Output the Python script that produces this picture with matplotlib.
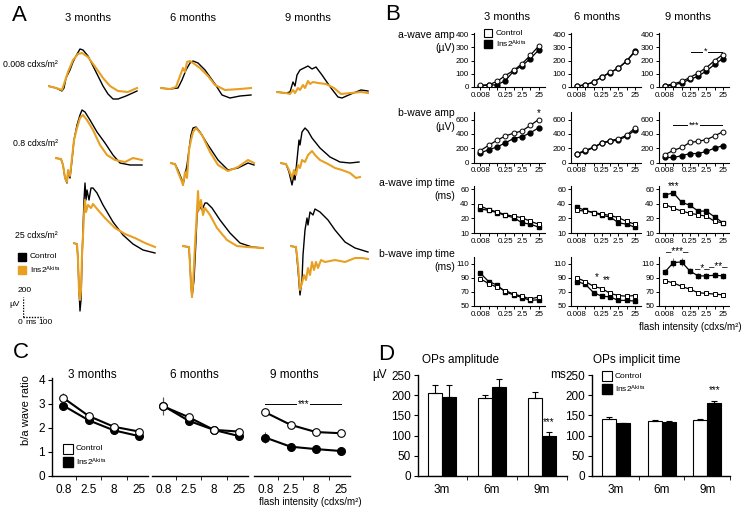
import numpy as np
import matplotlib
matplotlib.use('Agg')
import matplotlib.pyplot as plt
from matplotlib.ticker import FixedLocator, NullLocator, FixedFormatter

plt.rcParams['font.family'] = ['Liberation Sans', 'DejaVu Sans']
plt.rcParams['mathtext.fontset'] = 'custom'
plt.rcParams['mathtext.rm'] = 'Liberation Sans'
plt.rcParams['mathtext.it'] = 'Liberation Sans:italic'

W, H = 741, 509
ORANGE = '#E8A022'

# ---------------- Panel A data: ERG traces (time ms, amplitude µV) ----------------
ages = ['3 months', '6 months', '9 months']
flash_A = ['0.008 cdxs/m²', '0.8 cdxs/m²', '25 cdxs/m²']

ctrl_008_3m = ([0, 40, 70, 80, 90, 100, 110, 125, 140, 160, 175, 200, 240, 275, 300, 325, 350, 390, 445],
               [0, -20, -50, -20, 80, 120, 160, 240, 300, 370, 360, 300, 140, 0, -80, -130, -130, -100, -50])
akita_008_3m = ([0, 40, 70, 80, 100, 125, 150, 170, 200, 240, 275, 310, 350, 400, 445],
                [0, -20, -40, 20, 140, 260, 320, 330, 290, 180, 80, 0, -50, -60, -20])
ctrl_008_6m = ([0, 50, 90, 110, 130, 150, 165, 190, 225, 275, 310, 350, 400, 455],
               [0, -10, 0, 80, 180, 250, 270, 250, 180, 40, -70, -100, -80, -70])
akita_008_6m = ([0, 50, 80, 100, 115, 125, 135, 150, 165, 200, 240, 275, 325, 400, 455],
                [0, -10, 10, 120, 200, 160, 260, 270, 250, 200, 120, 30, -20, -10, 0])
ctrl_008_9m = ([0, 50, 70, 85, 95, 105, 120, 140, 160, 180, 200, 230, 275, 310, 330, 375, 425, 460],
               [0, -10, 0, 100, 60, 170, 220, 240, 260, 230, 250, 170, 40, -50, -60, -20, 20, 10])
akita_008_9m = ([0, 50, 70, 85, 95, 110, 120, 135, 145, 160, 170, 185, 210, 250, 290, 325, 375, 425, 460],
                [0, -10, -20, 20, -10, 40, 20, 70, 40, 110, 80, 100, 90, 80, 40, -20, -10, 0, -10])

ctrl_08_3m = ([0, 30, 40, 50, 60, 65, 75, 85, 95, 110, 125, 135, 150, 175, 210, 250, 290, 325, 375, 435],
              [0, -10, -70, -200, -250, -140, -200, -20, 180, 330, 430, 480, 460, 380, 260, 150, 30, -50, -70, -70])
akita_08_3m = ([0, 30, 40, 50, 60, 65, 75, 85, 95, 110, 125, 140, 160, 190, 225, 260, 300, 350, 390, 435],
               [0, -10, -70, -200, -240, -120, -180, 0, 180, 300, 400, 430, 380, 280, 130, 30, -20, -40, 0, -20])
ctrl_08_6m = ([0, 25, 40, 60, 65, 75, 85, 95, 105, 115, 130, 150, 190, 240, 290, 340, 390, 420],
              [0, -10, -70, -170, -220, -120, -20, 130, 280, 350, 360, 310, 180, 30, -70, -50, 0, -20])
akita_08_6m = ([0, 25, 40, 60, 65, 75, 85, 95, 105, 115, 130, 160, 200, 240, 290, 340, 390, 420],
               [0, -10, -90, -190, -220, -90, -150, 130, 230, 310, 350, 280, 110, -20, -80, -40, 30, 0])
ctrl_08_9m = ([0, 30, 45, 60, 70, 75, 85, 95, 100, 110, 125, 140, 160, 200, 250, 300, 350, 395],
              [0, -10, -90, -220, -120, -170, 30, 230, 180, 310, 350, 320, 250, 150, 60, 10, 0, 10])
akita_08_9m = ([0, 30, 45, 60, 70, 80, 90, 100, 110, 125, 140, 160, 175, 200, 240, 275, 310, 350, 380, 400],
               [0, -10, -70, -150, -70, -120, -20, -50, 30, 10, 80, 120, 80, 30, -10, -50, -70, -100, -150, -140])

ctrl_25_3m = ([0, 20, 25, 30, 35, 40, 45, 55, 60, 65, 70, 80, 90, 100, 120, 150, 200, 250, 300, 350, 410],
              [0, -10, -170, -470, -680, -570, -170, 430, 600, 430, 530, 430, 550, 550, 500, 380, 210, 80, -10, -70, -100])
akita_25_3m = ([0, 20, 25, 30, 35, 40, 45, 55, 60, 65, 75, 90, 100, 125, 160, 210, 260, 310, 360, 410],
               [0, -10, -170, -470, -570, -470, -120, 280, 430, 310, 380, 350, 390, 330, 250, 150, 90, 50, 0, -40])
ctrl_25_6m = ([0, 35, 40, 45, 50, 60, 70, 75, 85, 100, 115, 125, 150, 190, 240, 290, 350, 405],
              [0, -10, -190, -390, -510, -340, 60, 310, 410, 360, 430, 430, 380, 260, 130, 30, -10, -20])
akita_25_6m = ([0, 35, 40, 45, 50, 55, 65, 75, 80, 85, 95, 105, 115, 140, 175, 225, 275, 325, 405],
               [0, -10, -190, -390, -510, -390, 10, 360, 550, 360, 460, 310, 380, 310, 180, 60, 0, -10, -20])
ctrl_25_9m = ([0, 30, 40, 50, 60, 65, 75, 85, 90, 100, 115, 125, 150, 190, 225, 275, 325, 390],
              [0, -10, -240, -490, -340, -90, 160, 280, 210, 340, 310, 370, 340, 260, 160, 40, -20, -60])
akita_25_9m = ([0, 30, 40, 50, 60, 70, 80, 90, 100, 110, 120, 130, 140, 155, 175, 225, 275, 325, 360, 390],
               [0, -10, -190, -440, -370, -290, -340, -220, -290, -160, -240, -160, -220, -140, -160, -140, -160, -120, -120, -130])

# ---------------- Panel B data ----------------
intensities = ['0.008', '0.025', '0.08', '0.25', '0.8', '2.5', '8', '25']
shown_int = ['0.008', '0.25', '2.5', '25']

aamp_ctrl = [[10, 15, 40, 85, 125, 175, 240, 310],
             [5, 15, 37, 75, 110, 142, 197, 265],
             [8, 22, 40, 70, 105, 145, 200, 245]]
aamp_akita = [[8, 12, 15, 45, 120, 160, 215, 280],
              [5, 14, 35, 73, 108, 140, 195, 272],
              [5, 12, 30, 55, 80, 120, 170, 215]]
bamp_ctrl = [[165, 240, 310, 370, 410, 440, 520, 600],
             [125, 170, 215, 275, 305, 330, 380, 480],
             [110, 170, 210, 280, 295, 320, 370, 430]]
bamp_akita = [[130, 180, 215, 275, 335, 360, 415, 485],
              [120, 155, 210, 270, 295, 315, 365, 450],
              [70, 70, 95, 125, 125, 155, 200, 235]]
aimp_ctrl = [[37, 32, 29, 25, 23, 21, 18, 16],
             [31, 30, 28, 26, 24, 21, 18, 16],
             [39, 34, 30, 27, 25, 23, 18, 17]]
aimp_akita = [[33, 31, 28, 24, 21, 17, 16, 14],
              [35, 31, 28, 24, 22, 17, 16, 14],
              [52, 55, 42, 38, 30, 30, 22, 17]]
bimp_ctrl = [[89, 82, 77, 72, 67, 64, 60, 63],
             [90, 85, 78, 75, 68, 65, 64, 65],
             [86, 83, 78, 74, 69, 68, 67, 66]]
bimp_akita = [[97, 85, 80, 70, 66, 62, 58, 59],
              [85, 81, 69, 64, 63, 58, 58, 57],
              [99, 112, 113, 100, 93, 93, 94, 93]]
bimp_akita_err = [[2, 2, 3, 2, 2, 2, 2, 2],
                  [2, 2, 2, 2, 2, 2, 2, 2],
                  [4, 6, 6, 4, 4, 4, 4, 4]]

# ---------------- Panel C data ----------------
flash_C = ['0.8', '2.5', '8', '25']
ratio_ctrl = [[3.25, 2.5, 2.05, 1.85], [2.9, 2.45, 1.92, 1.85], [2.65, 2.13, 1.83, 1.78]]
ratio_akita = [[2.93, 2.32, 1.9, 1.66], [2.92, 2.3, 1.92, 1.66], [1.6, 1.22, 1.12, 1.04]]
ratio_ctrl_err = [[0.22, 0.06, 0.05, 0.05], [0.35, 0.06, 0.05, 0.05], [0.05, 0.05, 0.05, 0.05]]
ratio_akita_err = [[0.2, 0.07, 0.06, 0.05], [0.35, 0.15, 0.06, 0.05], [0.22, 0.08, 0.06, 0.05]]

# ---------------- Panel D data ----------------
age_D = ['3m', '6m', '9m']
ops_amp_ctrl = [205, 192, 192]
ops_amp_akita = [195, 220, 100]
ops_amp_ctrl_err = [20, 8, 15]
ops_amp_akita_err = [30, 20, 8]
ops_time_ctrl = [140, 136, 139]
ops_time_akita = [130, 133, 180]
ops_time_ctrl_err = [6, 2, 3]
ops_time_akita_err = [2, 2, 6]


def rect(x0, y0, x1, y1):
    return [x0 / W, 1 - y1 / H, (x1 - x0) / W, (y1 - y0) / H]


fig = plt.figure(figsize=(W / 100, H / 100), dpi=100)
ov = fig.add_axes([0, 0, 1, 1])
ov.set_xlim(0, W)
ov.set_ylim(H, 0)
ov.axis('off')


def txt(x, y, s, size=8, ha='center', va='center', **kw):
    ov.text(x, y, s, fontsize=size, ha=ha, va=va, **kw)


AK = 'Ins2$^{\\mathrm{Akita}}$'

# ---------------- Panel A ----------------
txt(19, 15, 'A', size=16)
for x, s in zip([88, 193, 308], ages):
    txt(x, 18, s, size=8)
for y, s in zip([64, 144, 235], flash_A):
    txt(58, y, s, size=6.3, ha='right')

trace_pairs = {
    (0, 0): (ctrl_008_3m, akita_008_3m), (0, 1): (ctrl_008_6m, akita_008_6m), (0, 2): (ctrl_008_9m, akita_008_9m),
    (1, 0): (ctrl_08_3m, akita_08_3m), (1, 1): (ctrl_08_6m, akita_08_6m), (1, 2): (ctrl_08_9m, akita_08_9m),
    (2, 0): (ctrl_25_3m, akita_25_3m), (2, 1): (ctrl_25_6m, akita_25_6m), (2, 2): (ctrl_25_9m, akita_25_9m),
}
origins = {(0, 0): (48, 86), (0, 1): (160, 88), (0, 2): (276, 92),
           (1, 0): (55, 158), (1, 1): (170, 163), (1, 2): (280, 163),
           (2, 0): (73, 243), (2, 1): (182, 246), (2, 2): (290, 246)}
for key, (sx, by) in origins.items():
    ax = fig.add_axes(rect(sx, by - 75, sx + 95, by + 75))
    ax.set_xlim(0, 475)
    ax.set_ylim(-750, 750)
    ax.axis('off')
    c, a = trace_pairs[key]
    ax.plot(c[0], c[1], color='black', lw=1.0, zorder=2)
    ax.plot(a[0], a[1], color=ORANGE, lw=1.5, zorder=3)

# legend A
ov.plot([22], [257], marker='s', ms=6, color='black', ls='none')
ov.plot([22], [270], marker='s', ms=6, color=ORANGE, ls='none')
txt(30, 257, 'Control', size=6, ha='left')
txt(30, 270, AK, size=6, ha='left')
# scale bar
sb = fig.add_axes(rect(23, 317 - 75, 23 + 95, 317 + 75))
sb.set_xlim(0, 475)
sb.set_ylim(-750, 750)
sb.axis('off')
sb.plot([0, 0], [0, 200], color='black', lw=1, ls=(0, (1, 1)))
sb.plot([0, 100], [0, 0], color='black', lw=1, ls=(0, (1, 1)))
txt(25, 290, '200', size=6)
txt(15, 304, 'µV', size=6)
txt(20, 323, '0', size=6)
txt(31, 323, 'ms', size=6)
txt(45, 323, '100', size=6)

# ---------------- Panel B ----------------
txt(393, 14, 'B', size=16)
for x, s in zip([507, 597, 688], ages):
    txt(x, 17, s, size=8)
row_labels = [('a-wave amp', '(µV)', 35, 48), ('b-wave amp', '(µV)', 113, 127),
              ('a-wave imp time', '(ms)', 183, 196), ('b-wave imp time', '(ms)', 254, 267)]
for l1, l2, y1, y2 in row_labels:
    txt(455, y1, l1, size=7.5, ha='right')
    txt(455, y2, l2, size=7.5, ha='right')
txt(690, 327, 'flash intensity (cdxs/m²)', size=7)

colsB = [(474, 545), (571, 641), (659, 729)]
rowsB = [(33, 86.7), (112, 162.5), (185.5, 233), (257, 306)]
ylimsB = [(0, 410), (0, 705), (10, 65), (50, 120)]
yticksB = [[0, 100, 200, 300, 400], [0, 200, 400, 600], [10, 20, 40, 60], [50, 70, 90, 110]]
ctrl_rows = [aamp_ctrl, bamp_ctrl, aimp_ctrl, bimp_ctrl]
akita_rows = [aamp_akita, bamp_akita, aimp_akita, bimp_akita]
markersB = ['o', 'o', 's', 's']

bp_in = [0, 10, 20, 40, 60, 100]
bp_out = [-1, 0, 1, 2, 3, 5]


def fwd(v):
    return np.interp(v, bp_in, bp_out)


def inv(v):
    return np.interp(v, bp_out, bp_in)


xpos = np.arange(len(intensities))
shown_idx = [intensities.index(s) for s in shown_int]
axB = {}
for r in range(4):
    for c in range(3):
        x0, x1 = colsB[c]
        y0, y1 = rowsB[r]
        ax = fig.add_axes(rect(x0, y0, x1, y1))
        ax.set_facecolor('none')
        if r == 2:
            ax.set_yscale('function', functions=(fwd, inv))
        ax.set_ylim(*ylimsB[r])
        ax.set_xlim(-0.75, 7.75)
        for sp in ['top', 'right']:
            ax.spines[sp].set_visible(False)
        for sp in ['left', 'bottom']:
            ax.spines[sp].set_linewidth(0.8)
        ax.yaxis.set_major_locator(FixedLocator(yticksB[r]))
        ax.yaxis.set_major_formatter(FixedFormatter([str(v) for v in yticksB[r]]))
        ax.yaxis.set_minor_locator(NullLocator())
        ax.xaxis.set_major_locator(FixedLocator(shown_idx))
        ax.xaxis.set_major_formatter(FixedFormatter(shown_int))
        ax.xaxis.set_minor_locator(FixedLocator(xpos))
        ax.tick_params(axis='both', labelsize=5.8, length=2, width=0.7, pad=1.5)
        ax.tick_params(axis='x', which='minor', length=2, width=0.7)
        m = markersB[r]
        if r == 3:
            ax.errorbar(xpos, akita_rows[r][c], yerr=bimp_akita_err[c], fmt='none',
                        ecolor='#777777', elinewidth=0.7, capsize=0)
        ax.plot(xpos, akita_rows[r][c], marker=m, ms=3.5, color='black', lw=0.9,
                mfc='black', mec='black')
        ax.plot(xpos, ctrl_rows[r][c], marker=m, ms=3.5, color='black', lw=0.9,
                mfc='white', mec='black', mew=0.7)
        axB[(r, c)] = ax


def sigline(ax, x0, x1, y, s, xs, size=6.5):
    ax.plot([x0, x1], [y, y], color='black', lw=0.7, zorder=1)
    ax.text(xs, y, s, fontsize=size, ha='center', va='center',
            bbox=dict(facecolor='white', edgecolor='none', pad=0.5), zorder=2)


sigline(axB[(0, 2)], 3.1, 6.9, 267, '*', 4.9)
sigline(axB[(1, 2)], 1.0, 6.9, 520, '***', 3.5)
axB[(1, 0)].text(7, 625, '*', fontsize=7, ha='center', va='bottom', clip_on=False)
axB[(2, 2)].text(1, 57, '***', fontsize=7, ha='center', va='bottom', clip_on=False)
axB[(3, 1)].text(2.4, 92, '*', fontsize=7, ha='center', va='center')
axB[(3, 1)].text(3.6, 87, '**', fontsize=7, ha='center', va='center')
axB[(3, 2)].text(1.5, 128, '–***–', fontsize=7, ha='center', va='center', clip_on=False)
axB[(3, 2)].text(4.5, 104, '–*–', fontsize=7, ha='center', va='center')
axB[(3, 2)].text(6.5, 107, '–**–', fontsize=7, ha='center', va='center')

# legend B
ov.plot([488], [33], marker='s', ms=6, mfc='white', mec='black', mew=0.8, ls='none')
ov.plot([488], [44], marker='s', ms=6, color='black', ls='none')
txt(496, 33, 'Control', size=6, ha='left')
txt(496, 44, AK, size=6, ha='left')

# ---------------- Panel C ----------------
txt(21, 353, 'C', size=16)
for x, s in zip([92, 194, 294], ages):
    txt(x, 375, s, size=8.5)
txt(26, 410, 'b/a wave ratio', size=8, rotation=90)
txt(310, 502, 'flash intensity (cdxs/m²)', size=7)
colsC = [(52, 148), (152, 248), (254, 350)]
xc = np.arange(len(flash_C))
for c in range(3):
    x0, x1 = colsC[c]
    ax = fig.add_axes(rect(x0, 378, x1, 476))
    ax.set_facecolor('none')
    ax.set_ylim(0, 4.08)
    ax.set_xlim(-0.45, 3.35)
    for sp in ['top', 'right']:
        ax.spines[sp].set_visible(False)
    ax.spines['bottom'].set_linewidth(1.0)
    if c == 0:
        ax.spines['left'].set_linewidth(1.0)
        ax.set_yticks([0, 1, 2, 3, 4])
        ax.tick_params(axis='y', labelsize=8.5, length=3, pad=2)
    else:
        ax.spines['left'].set_visible(False)
        ax.set_yticks([])
    ax.set_xticks(xc)
    ax.set_xticklabels(flash_C)
    ax.set_xticks([0.5, 1.5, 2.5], minor=True)
    ax.tick_params(axis='x', which='major', length=0, labelsize=8.5, pad=6)
    ax.tick_params(axis='x', which='minor', length=3)
    ax.errorbar(xc, ratio_akita[c], yerr=ratio_akita_err[c], fmt='none', ecolor='#555555',
                elinewidth=0.8, capsize=0)
    ax.errorbar(xc, ratio_ctrl[c], yerr=ratio_ctrl_err[c], fmt='none', ecolor='#555555',
                elinewidth=0.8, capsize=0)
    ax.plot(xc, ratio_akita[c], marker='o', ms=5.5, color='black', lw=1.5)
    ax.plot(xc, ratio_ctrl[c], marker='o', ms=5.5, color='black', lw=1.5, mfc='white', mew=0.8)
    if c == 2:
        sigline(ax, 0, 3, 3.0, '***', 1.5, size=7)

ov.plot([68], [449], marker='s', ms=7, mfc='white', mec='black', mew=0.8, ls='none')
ov.plot([68], [462], marker='s', ms=7, color='black', ls='none')
txt(76, 449, 'Control', size=6, ha='left')
txt(76, 462, AK, size=6, ha='left')

# ---------------- Panel D ----------------
txt(386, 355, 'D', size=16)
txt(460, 360, 'OPs amplitude', size=8.5)
txt(637, 360, 'OPs implicit time', size=8.5)
txt(380, 375, 'µV', size=8.5)
txt(558, 375, 'ms', size=8.5)
xd = np.arange(len(age_D))
specs = [((418, 567), (-0.48, 2.5), 0.28, ops_amp_ctrl, ops_amp_akita, ops_amp_ctrl_err, ops_amp_akita_err),
         ((592, 730), (-0.53, 2.5), 0.31, ops_time_ctrl, ops_time_akita, ops_time_ctrl_err, ops_time_akita_err)]
axD = []
for (x0, x1), xl, bw, vc, va, ec, ea in specs:
    ax = fig.add_axes(rect(x0, 375, x1, 476))
    ax.set_facecolor('none')
    ax.set_xlim(*xl)
    ax.set_ylim(0, 250)
    for sp in ['top', 'right']:
        ax.spines[sp].set_visible(False)
    ax.spines['left'].set_linewidth(1.0)
    ax.spines['bottom'].set_linewidth(1.0)
    ax.set_yticks([0, 50, 100, 150, 200, 250])
    ax.tick_params(axis='y', labelsize=8.5, length=3, pad=2)
    ax.set_xticks(xd)
    ax.set_xticklabels(age_D)
    ax.set_xticks([0.5, 1.5, 2.5], minor=True)
    ax.tick_params(axis='x', which='major', length=0, labelsize=8.5, pad=6)
    ax.tick_params(axis='x', which='minor', length=3)
    ax.bar(xd - bw / 2, vc, bw, color='white', edgecolor='black', lw=0.8,
           yerr=[[0] * 3, ec], error_kw=dict(elinewidth=0.8, capsize=2, capthick=0.8))
    ax.bar(xd + bw / 2, va, bw, color='black', edgecolor='black', lw=0.8,
           yerr=[[0] * 3, ea], error_kw=dict(elinewidth=0.8, capsize=2, capthick=0.8, ecolor='black'))
    axD.append(ax)
axD[0].text(2 + 0.14, 133, '***', fontsize=7, ha='center', va='center')
axD[1].text(2 + 0.155, 212, '***', fontsize=7, ha='center', va='center')

ov.plot([607], [376], marker='s', ms=7, mfc='white', mec='black', mew=0.8, ls='none')
ov.plot([607], [389], marker='s', ms=7, color='black', ls='none')
txt(615, 376, 'Control', size=6, ha='left')
txt(615, 389, AK, size=6, ha='left')

fig.savefig('out.png', dpi=100)
